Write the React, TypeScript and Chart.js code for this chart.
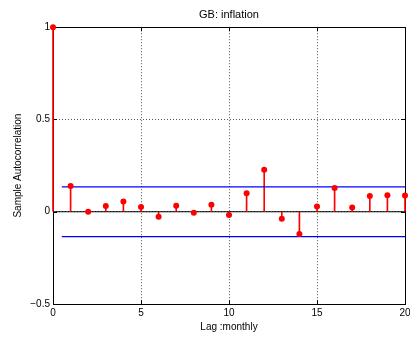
import React, { useEffect, useRef } from 'react';
import { Chart, registerables } from 'chart.js';

Chart.register(...registerables);

const lags = [0, 1, 2, 3, 4, 5, 6, 7, 8, 9, 10, 11, 12, 13, 14, 15, 16, 17, 18, 19, 20];
const acf = [1, 0.14, 0.0, 0.031, 0.056, 0.025, -0.027, 0.032, -0.006, 0.038, -0.018, 0.1, 0.227, -0.038, -0.12, 0.029, 0.128, 0.023, 0.085, 0.09, 0.088];
const boundX = [0.5, 20];
const upperBound = 0.135;
const lowerBound = -0.135;
const baselineX = [0, 20];
const xTicks = [0, 5, 10, 15, 20];
const yTicks = [-0.5, 0, 0.5, 1];
const titleText = 'GB: inflation';
const xLabel = 'Lag :monthly';
const yLabel = 'Sample Autocorrelation';

const FONT = "'Liberation Sans', Arial, Helvetica, sans-serif";

const fmt = (v: number) => (v < 0 ? '\u2212' + Math.abs(v) : String(v));

const framePlugin = {
  id: 'frame',
  beforeDatasetsDraw(chart: any) {
    const { ctx, chartArea: a, scales } = chart;
    ctx.save();
    ctx.strokeStyle = '#000';
    ctx.lineWidth = 1;
    ctx.strokeRect(Math.round(a.left) + 0.5, Math.round(a.top) + 0.5, Math.round(a.right - a.left), Math.round(a.bottom - a.top));
    const tl = 4;
    ctx.beginPath();
    xTicks.forEach((t) => {
      const px = Math.round(scales.x.getPixelForValue(t)) + 0.5;
      ctx.moveTo(px, a.bottom);
      ctx.lineTo(px, a.bottom - tl);
      ctx.moveTo(px, a.top);
      ctx.lineTo(px, a.top + tl);
    });
    yTicks.forEach((t) => {
      const py = Math.round(scales.y.getPixelForValue(t)) + 0.5;
      ctx.moveTo(a.left, py);
      ctx.lineTo(a.left + tl, py);
      ctx.moveTo(a.right, py);
      ctx.lineTo(a.right - tl, py);
    });
    ctx.stroke();
    ctx.restore();
  },
};

export default function App() {
  const ref = useRef<HTMLCanvasElement | null>(null);

  useEffect(() => {
    if (!ref.current) return;
    const points = lags.map((l, i) => ({ x: l, y: acf[i] }));
    const gridColor = (ctx: any, min: number, max: number) => {
      const v = ctx.tick && ctx.tick.value;
      return v === min || v === max ? 'rgba(0,0,0,0)' : '#555';
    };
    const chart = new Chart(ref.current, {
      type: 'scatter',
      data: {
        datasets: [
          {
            type: 'scatter',
            data: points,
            pointRadius: 3,
            pointBackgroundColor: '#ff0000',
            pointBorderColor: '#ff0000',
            pointBorderWidth: 0,
            order: 0,
            clip: false,
          } as any,
          {
            type: 'line',
            data: boundX.map((x) => ({ x, y: upperBound })),
            borderColor: '#0000ff',
            borderWidth: 1.2,
            pointRadius: 0,
            order: 1,
          } as any,
          {
            type: 'line',
            data: boundX.map((x) => ({ x, y: lowerBound })),
            borderColor: '#0000ff',
            borderWidth: 1.2,
            pointRadius: 0,
            order: 1,
          } as any,
          {
            type: 'line',
            data: baselineX.map((x) => ({ x, y: 0 })),
            borderColor: '#000',
            borderWidth: 1.2,
            pointRadius: 0,
            order: 3,
          } as any,
          {
            type: 'bar',
            data: points,
            backgroundColor: '#ff0000',
            borderWidth: 0,
            barThickness: 1,
            order: 2,
            clip: false,
          } as any,
        ],
      },
      options: {
        animation: false,
        responsive: true,
        maintainAspectRatio: false,
        layout: { padding: { top: 0, right: 5, left: 0, bottom: 0 }, autoPadding: false } as any,
        plugins: {
          legend: { display: false },
          tooltip: { enabled: false },
          title: {
            display: true,
            fullSize: false,
            text: titleText,
            color: '#000',
            font: { family: FONT, size: 11, weight: 'normal' },
            padding: { top: 8, bottom: 6 },
          },
        },
        scales: {
          x: {
            type: 'linear',
            min: 0,
            max: 20,
            offset: false,
            afterFit: (s: any) => {
              s.height = 36;
              s.paddingLeft = 0;
              s.paddingRight = 0;
            },
            afterBuildTicks: (s: any) => {
              s.ticks = xTicks.map((v) => ({ value: v }));
            },
            ticks: {
              color: '#000',
              font: { family: FONT, size: 10 },
              padding: 3,
              maxRotation: 0,
              autoSkip: false,
              callback: (v: any) => fmt(Number(v)),
            },
            grid: {
              offset: false,
              drawTicks: false,
              color: (ctx: any) => gridColor(ctx, 0, 20),
              lineWidth: 1,
            },
            border: { display: false, dash: [1, 2] },
            title: {
              display: true,
              text: xLabel,
              color: '#000',
              font: { family: FONT, size: 10 },
              padding: { top: 0, bottom: 7 },
            },
          } as any,
          y: {
            type: 'linear',
            min: -0.5,
            max: 1,
            afterFit: (s: any) => {
              s.width = 53;
              s.paddingTop = 0;
              s.paddingBottom = 0;
            },
            afterBuildTicks: (s: any) => {
              s.ticks = yTicks.map((v) => ({ value: v }));
            },
            ticks: {
              color: '#000',
              font: { family: FONT, size: 10 },
              padding: 3,
              autoSkip: false,
              callback: (v: any) => fmt(Number(v)),
            },
            grid: {
              offset: false,
              drawTicks: false,
              color: (ctx: any) => gridColor(ctx, -0.5, 1),
              lineWidth: 1,
            },
            border: { display: false, dash: [1, 2] },
            title: {
              display: true,
              text: yLabel,
              color: '#000',
              font: { family: FONT, size: 10 },
              padding: { top: 12, bottom: 0 },
            },
          } as any,
        },
      },
      plugins: [framePlugin],
    } as any);
    return () => chart.destroy();
  }, []);

  return (
    <div style={{ position: 'fixed', left: 0, top: 0, width: 410, height: 340, background: '#fff' }}>
      <canvas ref={ref} />
    </div>
  );
}
